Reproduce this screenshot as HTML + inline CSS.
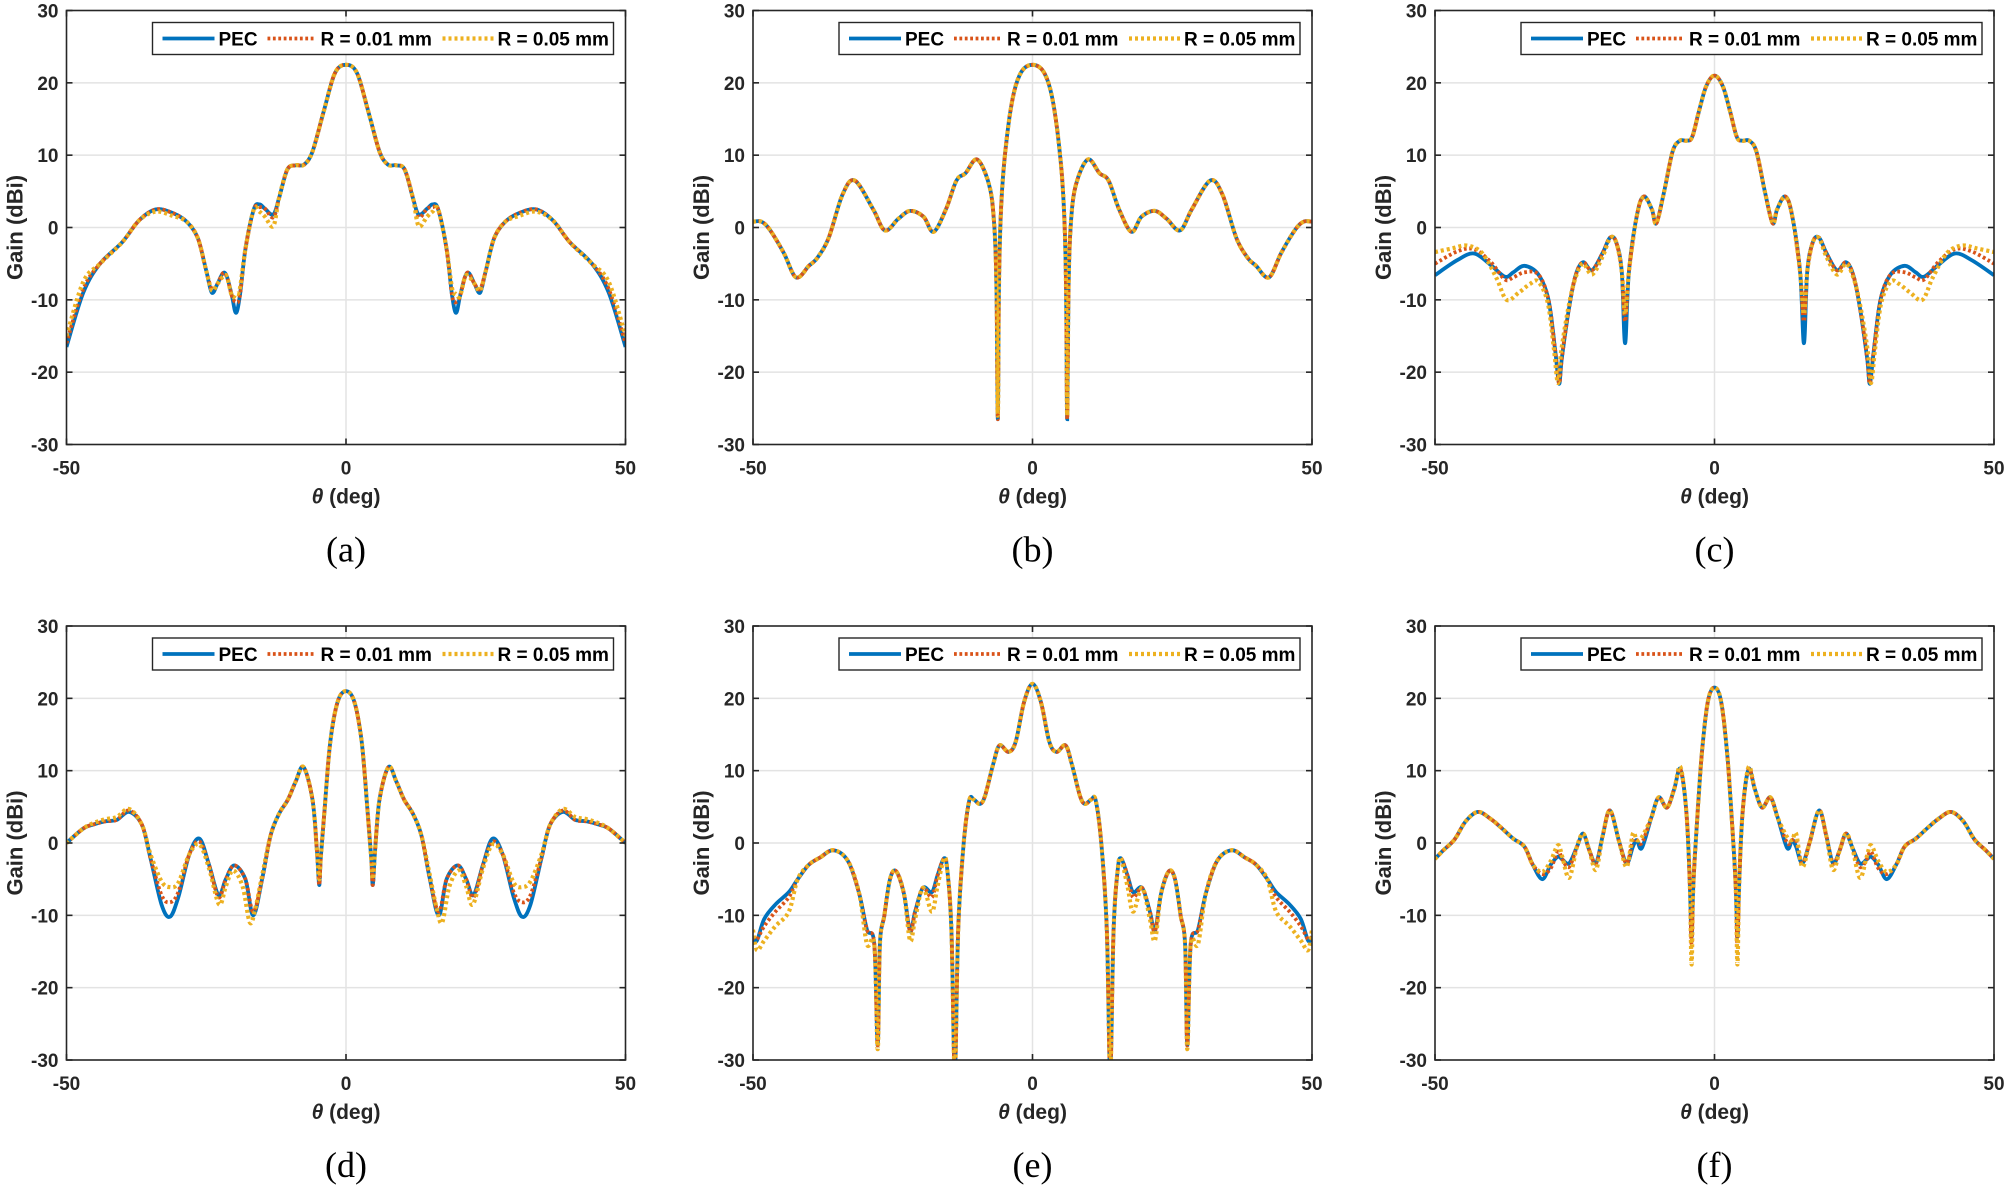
<!DOCTYPE html>
<html><head><meta charset="utf-8">
<style>
html,body{margin:0;padding:0;background:#fff;}
svg text{font-family:"Liberation Sans",Arial,sans-serif;}
</style></head>
<body>
<svg id="s" xmlns="http://www.w3.org/2000/svg" width="2007" height="1188" viewBox="0 0 2007 1188"></svg>
<script>
const NS="http://www.w3.org/2000/svg";
const S=document.getElementById('s');
function el(tag,attrs,parent,text){const e=document.createElementNS(NS,tag);for(const k in attrs)e.setAttribute(k,attrs[k]);if(text!==undefined)e.textContent=text;(parent||S).appendChild(e);return e;}
const W=559,H=434;
function mirror(r){const l=[];for(let i=r.length-1;i>0;i--)l.push([-r[i][0],r[i][1]]);return l.concat(r);}
function path(pts,ox,oy){
  const P=pts.map(p=>[ox+(p[0]+50)*W/100, oy+(30-p[1])*H/60]);
  let d="M"+P[0][0].toFixed(1)+","+P[0][1].toFixed(1);
  for(let i=0;i<P.length-1;i++){
    const p0=P[i-1]||P[i],p1=P[i],p2=P[i+1],p3=P[i+2]||P[i+1];
    const t=1/6;
    const c1=[p1[0]+(p2[0]-p0[0])*t,p1[1]+(p2[1]-p0[1])*t];
    const c2=[p2[0]-(p3[0]-p1[0])*t,p2[1]-(p3[1]-p1[1])*t];
    d+="C"+c1[0].toFixed(1)+","+c1[1].toFixed(1)+" "+c2[0].toFixed(1)+","+c2[1].toFixed(1)+" "+p2[0].toFixed(1)+","+p2[1].toFixed(1);
  }
  return d;
}
let cid=0;
function panel(ox,oy,cap,series){
  const id="c"+(cid++);
  const cp=el('clipPath',{id:id});el('rect',{x:ox,y:oy,width:W,height:H},cp);
  for(let g=-20;g<=20;g+=10){const y=oy+(30-g)*H/60;el('line',{x1:ox,x2:ox+W,y1:y,y2:y,stroke:'#e3e3e3','stroke-width':1.5});}
  el('line',{x1:ox+W/2,x2:ox+W/2,y1:oy,y2:oy+H,stroke:'#e3e3e3','stroke-width':1.5});
  const g=el('g',{'clip-path':'url(#'+id+')',fill:'none'});
  el('path',{d:path(series[0],ox,oy),stroke:'#0072BD','stroke-width':3.8},g);
  el('path',{d:path(series[1],ox,oy),stroke:'#D95319','stroke-width':3.8,'stroke-dasharray':'2.8 2.6'},g);
  el('path',{d:path(series[2],ox,oy),stroke:'#EDB120','stroke-width':4.2,'stroke-dasharray':'3 3'},g);
  el('rect',{x:ox,y:oy,width:W,height:H,fill:'none',stroke:'#262626','stroke-width':1.6});
  for(let v=-30;v<=30;v+=10){const y=oy+(30-v)*H/60;
    el('line',{x1:ox,x2:ox+6,y1:y,y2:y,stroke:'#262626','stroke-width':1.6});
    el('line',{x1:ox+W-6,x2:ox+W,y1:y,y2:y,stroke:'#262626','stroke-width':1.6});
    el('text',{x:ox-8,y:y+7,'text-anchor':'end','font-size':19,'font-weight':'bold',fill:'#262626'},null,String(v));}
  [-50,0,50].forEach(v=>{const x=ox+(v+50)*W/100;
    el('line',{x1:x,x2:x,y1:oy+H,y2:oy+H-6,stroke:'#262626','stroke-width':1.6});
    el('line',{x1:x,x2:x,y1:oy,y2:oy+6,stroke:'#262626','stroke-width':1.6});
    el('text',{x:x,y:oy+H+30,'text-anchor':'middle','font-size':19,'font-weight':'bold',fill:'#262626'},null,String(v));});
  const t=el('text',{x:ox+W/2,y:oy+H+59,'text-anchor':'middle','font-size':21,'font-weight':'bold',fill:'#262626'});
  el('tspan',{'font-style':'italic'},t,'θ');el('tspan',{},t,' (deg)');
  el('text',{x:0,y:0,transform:'translate('+(ox-44)+','+(oy+H/2)+') rotate(-90)','text-anchor':'middle','font-size':22,'font-weight':'bold',fill:'#262626'},null,'Gain (dBi)');
  el('text',{x:ox+W/2,y:oy+H+117,'text-anchor':'middle','font-size':36,fill:'#000','style':'font-family:"Liberation Serif",serif'},null,cap);
  const lx=ox+86,ly=oy+12;
  el('rect',{x:lx,y:ly,width:461,height:32,fill:'#fff',stroke:'#262626','stroke-width':1.4});
  const my=ly+16;
  el('line',{x1:lx+10,x2:lx+62,y1:my,y2:my,stroke:'#0072BD','stroke-width':3.8});
  el('text',{x:lx+66,y:my+7,'font-size':19,'font-weight':'bold',fill:'#000'},null,'PEC');
  el('line',{x1:lx+115,x2:lx+162,y1:my,y2:my,stroke:'#D95319','stroke-width':3.8,'stroke-dasharray':'2.8 2.6'});
  el('text',{x:lx+168,y:my+7,'font-size':19,'font-weight':'bold',fill:'#000'},null,'R = 0.01 mm');
  el('line',{x1:lx+290,x2:lx+341,y1:my,y2:my,stroke:'#EDB120','stroke-width':4.2,'stroke-dasharray':'3 3'});
  el('text',{x:lx+345,y:my+7,'font-size':19,'font-weight':'bold',fill:'#000'},null,'R = 0.05 mm');
}
const aP=[[0,22.5],[2,21.3],[4,16],[6,10.5],[7.5,8.7],[9,8.6],[10.5,8],[12,4],[13,1.8],[14.5,2.6],[15.5,3.2],[16.5,2.5],[18,-3],[19,-9.5],[19.7,-11.8],[20.4,-9.5],[21.3,-6.8],[22,-6.3],[23,-7.8],[24,-9],[25,-6],[26.5,-1.5],[28.5,0.8],[31,2],[34,2.5],[37,1],[40,-2],[44,-5],[47,-9],[50,-16.5]];
const aR=aP.map(p=>{let [t,g]=p; if(t==19.7)g=-10.3; if(t==13)g=1.4; if(t==15.5)g=2.8; if(t==24)g=-8.5; if(t==50)g=-16; if(t==47)g=-8.5; return [t,g];});
const aY=aP.map(p=>{let [t,g]=p; if(t==19.7)g=-9.2; if(t==19)g=-8.5; if(t==13)g=0.2; if(t==14.5)g=1.5; if(t==15.5)g=2.2; if(t==22)g=-6.8; if(t==24)g=-8.7; if(t==50)g=-15; if(t==47)g=-7.5; if(t==34)g=2.2; if(t==31)g=1.6; return [t,g];});
const bP=[[0,22.5],[2,21.5],[3.5,18],[4.8,11],[5.6,3],[6.0,-8],[6.2,-26.5],[6.45,-8],[6.9,1],[7.8,6],[9.9,9.4],[12,7.5],[13.6,6.5],[15.5,2.5],[17.7,-0.6],[19.5,1.5],[21.9,2.3],[24,1.2],[26.4,-0.4],[28.5,2.5],[31.8,6.5],[34,4.5],[36.5,-1.5],[38.5,-4.2],[40,-5.3],[42.3,-6.9],[44.5,-3.5],[47,-0.3],[48.5,0.8],[50,0.8]];
const bR=bP.map(p=>p.slice());
const bY=bP.map(p=>{let [t,g]=p; if(t==6.2)g=-26; return [t,g];});
const cP=[[0,21],[1.5,19.5],[2.8,16],[4,12.5],[5,12],[6.2,12],[7.5,10.5],[9,5],[10.4,0.6],[11.2,2.5],[12.6,4.3],[13.8,2],[15.3,-6],[16,-16],[16.6,-6],[17.6,-2],[18.7,-1.4],[20,-3.5],[21.9,-5.9],[23.5,-4.8],[24.8,-6.5],[26,-11],[27.3,-18],[27.8,-21.6],[28.5,-17],[29.7,-10],[31.5,-6.5],[34,-5.3],[36,-6.2],[37.5,-6.8],[40,-5.2],[43,-3.6],[46,-4.5],[50,-6.6]];
const cR=cP.map(p=>{let [t,g]=p; if(t==16)g=-13; if(t==34)g=-6.2; if(t==36)g=-6.9; if(t==37.5)g=-7.2; if(t==40)g=-4.8; if(t==43)g=-3; if(t==46)g=-3.3; if(t==50)g=-5; return [t,g];});
const cY=[[0,21],[1.5,19.5],[2.8,16],[4,12.5],[5,12],[6.2,12],[7.5,10.5],[9,5],[10.4,0.6],[11.2,2.5],[12.6,4.2],[13.8,2],[15.3,-6],[16,-12],[16.6,-6],[17.6,-2],[18.7,-1.5],[20,-4],[21.9,-6.5],[23.5,-5],[24.8,-6.8],[26,-10.5],[27.4,-17],[28,-21.5],[28.7,-17],[29.8,-10.5],[31.5,-7.5],[33,-7.8],[35,-9],[37.2,-10],[39,-7],[41.5,-3.6],[44.2,-2.5],[47,-2.9],[50,-3.4]];
const dP=[[0,21],[1.5,19.5],[2.8,14],[3.8,5],[4.5,-2],[4.8,-5.8],[5.2,-1],[6,6],[7.6,10.5],[9,8.5],[10.4,6],[12,4],[13.5,1],[15,-5],[16.6,-10],[18,-5],[20,-3.1],[21.5,-5],[22.8,-7.2],[24.5,-3],[26.2,0.6],[28,-1.5],[30,-7.5],[31.5,-10.2],[33,-8.5],[35,-2],[36.5,2.5],[38.8,4.3],[41,3.2],[43,3],[45,2.6],[47,2],[50,0]];
const dR=dP.map(p=>{let [t,g]=p; if(t==31.5)g=-8.2; if(t==30)g=-6.8; if(t==33)g=-7.2; if(t==16.6)g=-9.5; if(t==22.8)g=-7.5; if(t==26.2)g=0.2; if(t==38.8)g=4.5; return [t,g];});
const dY=[[0,21],[1.5,19.5],[2.8,14],[3.8,5],[4.5,-2],[4.8,-5],[5.2,-1],[6,6],[7.6,10.5],[9,8.5],[10.4,6],[12,4],[13.5,1],[15,-4.5],[16.2,-9],[17.2,-11],[18.5,-6],[20.2,-3.8],[21.5,-6],[22.7,-8.5],[24.5,-3.5],[26.2,-0.2],[28,-1.5],[30,-5.5],[31.5,-6.1],[33,-5.3],[35,-1.5],[36.5,2.5],[38.8,4.7],[41,3.6],[43,3.3],[45,2.8],[47,2],[50,0]];
const eP=[[0,22],[1.5,19.5],[3,14],[4.3,12.6],[5.9,13.5],[7,11],[8.5,6.5],[9.4,5.4],[10.5,6],[11.3,5.9],[12.3,0],[13.3,-12],[13.9,-32],[14.5,-12],[15.2,-4],[15.8,-2.1],[17,-4.5],[18,-6.8],[19.6,-6.2],[21,-9.5],[21.9,-12.2],[23,-7],[24.4,-3.9],[25.5,-5],[26.5,-10],[27.3,-14],[27.7,-28],[28.3,-14],[29.6,-12],[31,-7],[33,-2.5],[35.6,-1],[38,-2],[40,-3],[42,-5],[43.6,-6.8],[46,-8.5],[48,-10.5],[49.3,-13.5],[50,-13]];
const eR=eP.map(p=>{let [t,g]=p; if(t==43.6)g=-7.5; if(t==46)g=-9.5; if(t==48)g=-11.5; if(t==49.3)g=-13.3; if(t==18)g=-7.5; return [t,g];});
const eY=eP.map(p=>{let [t,g]=p; if(t==43.6)g=-9.5; if(t==46)g=-11.5; if(t==48)g=-13.5; if(t==49.3)g=-14.8; if(t==50)g=-12; if(t==18)g=-9.5; if(t==17)g=-6; if(t==21.9)g=-13.5; if(t==21)g=-10.5; if(t==29.6)g=-14; if(t==27.7)g=-28.5; return [t,g];});
const fP=[[0,21.5],[1.2,19.5],[2.3,12],[3.2,2],[3.8,-6],[4.1,-13],[4.4,-6],[5,4],[6.1,10.2],[7.2,7.5],[8.5,4.9],[10,6.3],[11.3,3.5],[13,-0.7],[13.9,0.4],[14.6,-0.5],[15.7,-2.8],[17,0],[18.7,4.5],[20,1],[21.2,-2.8],[22.4,-1],[23.5,1.3],[24.6,-0.5],[26,-2.8],[27.2,-2.3],[28,-1.9],[29.3,-3],[30.8,-5],[32.5,-3],[34,-0.5],[36,0.6],[38,2],[40,3.3],[42.3,4.3],[44.5,3],[46.5,0.5],[48.5,-1],[50,-2.2]];
const fR=fP.map(p=>{let [t,g]=p; if(t==4.1)g=-14; if(t==14.6)g=0.3; if(t==13)g=0; if(t==28)g=-1.2; if(t==26)g=-3.3; if(t==29.3)g=-3.5; if(t==30.8)g=-4.3; return [t,g];});
const fY=fP.map(p=>{let [t,g]=p; if(t==4.1)g=-16.8; if(t==14.6)g=1.3; if(t==13)g=0.8; if(t==15.7)g=-3.3; if(t==21.2)g=-3.7; if(t==28)g=-0.3; if(t==26)g=-4.8; if(t==27.2)g=-2; if(t==29.3)g=-2.5; if(t==30.8)g=-4; if(t==6.1)g=10.5; return [t,g];});
const M=a=>mirror(a);
const X=[66.5,753,1435],Y=[10.5,626];
panel(X[0],Y[0],'(a)',[M(aP),M(aR),M(aY)]);
panel(X[1],Y[0],'(b)',[M(bP),M(bR),M(bY)]);
panel(X[2],Y[0],'(c)',[M(cP),M(cR),M(cY)]);
panel(X[0],Y[1],'(d)',[M(dP),M(dR),M(dY)]);
panel(X[1],Y[1],'(e)',[M(eP),M(eR),M(eY)]);
panel(X[2],Y[1],'(f)',[M(fP),M(fR),M(fY)]);
</script>
</body></html>
